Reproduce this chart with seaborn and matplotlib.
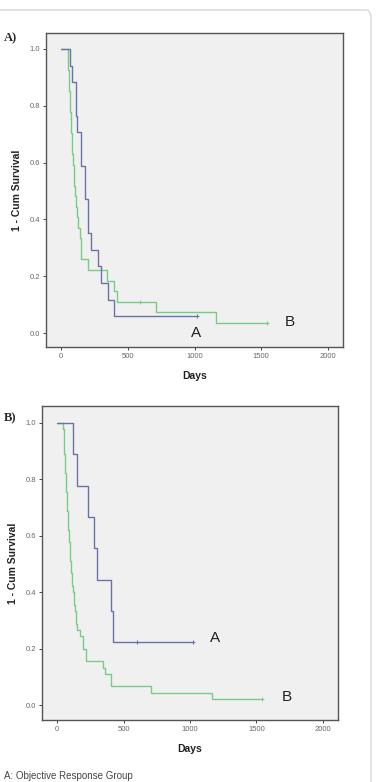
import numpy as np
import pandas as pd
import seaborn as sns
import matplotlib
matplotlib.use("Agg")
import matplotlib.pyplot as plt
from matplotlib.patches import FancyBboxPatch

# ---- panel A: survival curves (days, 1 - cum survival) ----
a_days_A = [0, 65, 85, 115, 120, 150, 180, 205, 225, 275, 297, 350, 397, 1015]
a_surv_A = [1.0, 0.941, 0.882, 0.765, 0.706, 0.588, 0.471, 0.353, 0.294, 0.235,
            0.176, 0.118, 0.059, 0.059]
a_cens_A = [1015]
a_cens_A_surv = [0.059]

a_days_B = [0, 52, 55, 58, 62, 66, 70, 74, 78, 82, 86, 90, 95, 100, 108, 115,
            120, 127, 140, 148, 150, 203, 343, 400, 420, 712, 1160, 1543]
a_surv_B = [1.0, 0.963, 0.926, 0.889, 0.852, 0.815, 0.778, 0.741, 0.704, 0.667,
            0.630, 0.593, 0.556, 0.519, 0.481, 0.444, 0.407, 0.370, 0.333, 0.296,
            0.259, 0.222, 0.185, 0.148, 0.111, 0.074, 0.037, 0.037]
a_cens_B = [593, 1543]
a_cens_B_surv = [0.111, 0.037]

# ---- panel B ----
b_days_A = [0, 118, 148, 235, 278, 303, 404, 423, 1020]
b_surv_A = [1.0, 0.889, 0.778, 0.667, 0.556, 0.444, 0.333, 0.222, 0.222]
b_cens_A = [599, 1020]
b_cens_A_surv = [0.222, 0.222]

b_days_B = [0, 48, 50, 52, 54, 56, 58, 60, 62, 65, 67, 70, 72, 75, 77, 80, 82,
            85, 88, 91, 94, 97, 100, 104, 108, 112, 116, 120, 125, 130, 135, 140,
            145, 148, 173, 198, 218, 343, 360, 403, 704, 1163, 1539]
b_surv_B = [1.0, 0.978, 0.956, 0.933, 0.911, 0.889, 0.867, 0.844, 0.822, 0.800,
            0.778, 0.756, 0.733, 0.711, 0.689, 0.667, 0.644, 0.622, 0.600, 0.578,
            0.556, 0.533, 0.511, 0.489, 0.467, 0.444, 0.422, 0.400, 0.378, 0.356,
            0.333, 0.311, 0.289, 0.267, 0.244, 0.200, 0.156, 0.133, 0.111, 0.067,
            0.044, 0.022, 0.022]
b_cens_B = [1539]
b_cens_B_surv = [0.022]

x_ticks = [0, 500, 1000, 1500, 2000]
y_ticks = [0.0, 0.2, 0.4, 0.6, 0.8, 1.0]

blue = "#6a72a6"
green = "#78cc88"

sns.set_style("white")
plt.rcParams["font.family"] = ["Liberation Sans", "DejaVu Sans"]

fig = plt.figure(figsize=(3.91, 7.82), dpi=100)

# card border (left and bottom run off the picture)
card_left, card_right = -0.05, 371 / 391
card_bottom, card_top = -0.05, 1 - 10 / 782
card = FancyBboxPatch((card_left, card_bottom), card_right - card_left, card_top - card_bottom,
                      transform=fig.transFigure,
                      boxstyle="round,pad=0,rounding_size=0.012",
                      facecolor="white", edgecolor="#d8d8d8", linewidth=1.0)
card.set_zorder(-10)
fig.patches.append(card)


def draw_panel(ax, days_A, surv_A, cens_A, cens_A_s, days_B, surv_B, cens_B, cens_B_s,
               xlim, ylim, a_pos, b_pos):
    ax.set_facecolor("#f0f0f0")
    dA = pd.DataFrame({"days": days_A, "surv": surv_A})
    dB = pd.DataFrame({"days": days_B, "surv": surv_B})
    sns.lineplot(data=dB, x="days", y="surv", drawstyle="steps-post", estimator=None,
                 color=green, linewidth=1.0, ax=ax)
    sns.lineplot(data=dA, x="days", y="surv", drawstyle="steps-post", estimator=None,
                 color=blue, linewidth=1.0, ax=ax)
    sns.scatterplot(x=cens_B, y=cens_B_s, marker="+", s=10, color=green, linewidth=0.8, ax=ax)
    sns.scatterplot(x=cens_A, y=cens_A_s, marker="+", s=10, color=blue, linewidth=0.8, ax=ax)
    ax.text(a_pos[0], a_pos[1], "A", fontsize=11, ha="center", va="center", color="#222222")
    ax.text(b_pos[0], b_pos[1], "B", fontsize=11, ha="center", va="center", color="#222222")
    ax.set_xlim(*xlim)
    ax.set_ylim(*ylim)
    ax.set_xticks(x_ticks)
    ax.set_xticklabels([str(t) for t in x_ticks])
    ax.set_yticks(y_ticks)
    ax.set_yticklabels([f"{t:.1f}" for t in y_ticks])
    ax.tick_params(axis="both", direction="out", length=2.5, width=0.7, color="#444444",
                   labelsize=5.5, labelcolor="#666666", pad=1.5, left=True, bottom=True)
    for sp in ax.spines.values():
        sp.set_visible(True)
        sp.set_color("#555555")
        sp.set_linewidth(1.0)
    ax.set_xlabel("Days", fontsize=7.5, fontweight="bold", color="#222222", labelpad=8)
    ax.set_ylabel("1 - Cum Survival", fontsize=7.5, fontweight="bold", color="#222222",
                  labelpad=6)


axA = fig.add_axes([46 / 391, 1 - 347 / 782, 297 / 391, 314 / 782])
draw_panel(axA, a_days_A, a_surv_A, a_cens_A, a_cens_A_surv,
           a_days_B, a_surv_B, a_cens_B, a_cens_B_surv,
           (-112, 2112), (-0.049, 1.056), (1011, 0.0), (1715, 0.04))

axB = fig.add_axes([42 / 391, 1 - 720 / 782, 296 / 391, 314 / 782])
draw_panel(axB, b_days_A, b_surv_A, b_cens_A, b_cens_A_surv,
           b_days_B, b_surv_B, b_cens_B, b_cens_B_surv,
           (-113, 2113), (-0.053, 1.06), (1188, 0.237), (1729, 0.03))

fig.text(4 / 391, 1 - 38 / 782, "A)", fontsize=9, fontweight="bold",
         family=["Liberation Serif", "DejaVu Serif"], ha="left", va="center")
fig.text(4 / 391, 1 - 418 / 782, "B)", fontsize=9, fontweight="bold",
         family=["Liberation Serif", "DejaVu Serif"], ha="left", va="center")
fig.text(4 / 391, 1 - 781 / 782, "A: Objective Response Group", fontsize=7,
         color="#444444", ha="left", va="bottom")

fig.savefig("out.png", dpi=100)
